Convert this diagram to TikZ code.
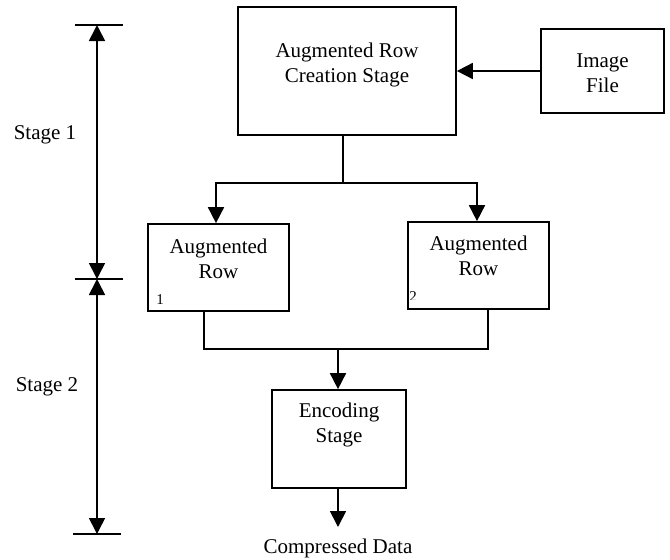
\documentclass[tikz,border=0pt]{standalone}
\usepackage{fontspec}
\setmainfont{Liberation Serif}
\usetikzlibrary{arrows.meta}
\begin{document}
\begin{tikzpicture}[x=1pt,y=-1pt,
  line width=1.7pt,
  font=\fontsize{21}{25}\selectfont,
  box/.style={draw,rectangle,inner sep=0pt},
  lbl/.style={align=center,inner sep=0pt},
  small/.style={inner sep=0pt,font=\fontsize{15}{17}\selectfont},
  arr/.style={-{Triangle[width=16pt,length=16pt]}},
  dbl/.style={{Triangle[width=16pt,length=16pt]}-{Triangle[width=16pt,length=16pt]}}]
\useasboundingbox (0,0) rectangle (670,560);

% main blocks
\node[box,minimum width=218pt,minimum height=128pt] (big) at (347,71) {};
\node[lbl] (bigtxt) at (347,64.5) {Augmented Row\\Creation Stage};

\node[box,minimum width=123pt,minimum height=84pt] (img) at (602.5,71) {};
\node[lbl] (imgtxt) at (602.5,73.5) {Image\\File};

\node[box,minimum width=141pt,minimum height=87pt] (a1) at (218.5,267.5) {};
\node[lbl] (a1txt) at (218.5,259) {Augmented\\Row};
\node[small] (one) at (160,300) {1};

\node[box,minimum width=141pt,minimum height=87pt] (a2) at (478.5,265.5) {};
\node[lbl] (a2txt) at (478.5,256) {Augmented\\Row};
\begin{scope}
  \clip (400,285) rectangle (430,299.5);
  \node[small] (two) at (413,297) {2};
\end{scope}

\node[box,minimum width=134pt,minimum height=98pt] (enc) at (339,439) {};
\node[lbl] (enctxt) at (339,425) {Encoding\\Stage};

\node[inner sep=0pt,anchor=base] (out) at (338,553) {Compressed Data};

% connectors
\coordinate (split) at (343,183);
\coordinate (merge) at (338,349);
\coordinate (outtip) at (338,527);

\draw[arr] (img.west) -- (big.east |- img.west);
\draw (big.south -| split) -- (split);
\draw[arr] (split) -| ([xshift=-2.5pt]a1.north);
\draw[arr] (split) -| ([xshift=-1.5pt]a2.north);
\draw ([xshift=-14.5pt]a1.south) |- (merge);
\draw ([xshift=9.5pt]a2.south) |- (merge);
\draw[arr] (merge) -- (enc.north -| merge);
\draw[arr] (enc.south -| merge) -- (outtip);

% stage markers
\coordinate (t1) at (97,25);
\coordinate (t2) at (97,279);
\coordinate (t3) at (97,534);
\draw ([xshift=-22pt]t1) -- ([xshift=26pt]t1);
\draw ([xshift=-22pt]t2) -- ([xshift=26pt]t2);
\draw ([xshift=-24pt]t3) -- ([xshift=24pt]t3);
\draw[dbl] (t1) -- (t2);
\draw[dbl] (t2) -- (t3);
\node[inner sep=0pt] (s1) at (45,135) {Stage 1};
\node[inner sep=0pt] (s2) at (47,387) {Stage 2};
\end{tikzpicture}
\end{document}
